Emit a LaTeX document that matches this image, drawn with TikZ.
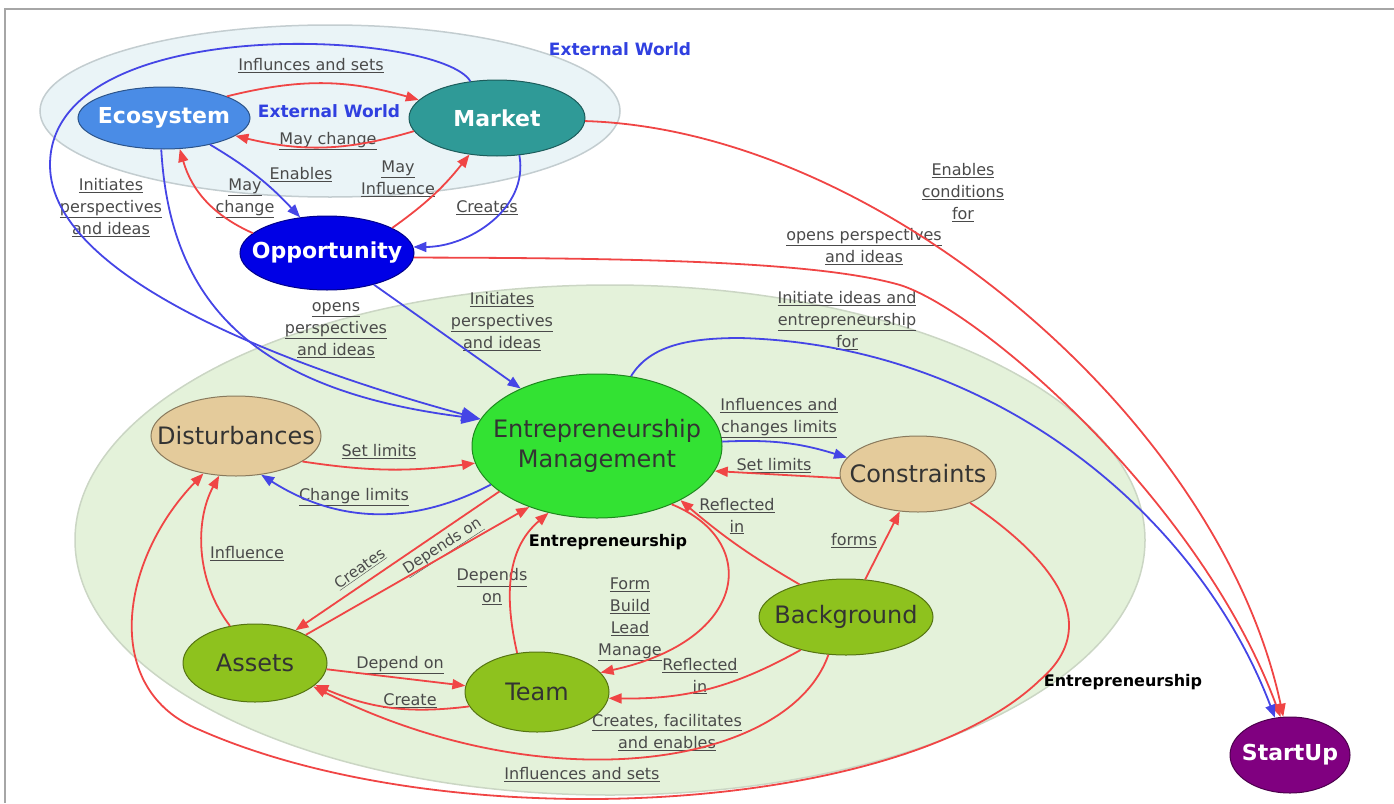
\documentclass[tikz,border=0pt]{standalone}
\usepackage{fontspec}
\setmainfont{DejaVu Sans}
\usetikzlibrary{shapes.geometric,arrows.meta}
\definecolor{worldc}{HTML}{EAF4F7}
\definecolor{worldline}{HTML}{C3CDD0}
\definecolor{entc}{HTML}{E4F2DA}
\definecolor{entline}{HTML}{CBD6C4}
\definecolor{ecoc}{HTML}{4A8CE6}
\definecolor{marketc}{HTML}{2F9A97}
\definecolor{oppc}{HTML}{0000E6}
\definecolor{emc}{HTML}{33E233}
\definecolor{tanc}{HTML}{E4CB9B}
\definecolor{leafc}{HTML}{8EC21E}
\definecolor{startc}{HTML}{800080}
\definecolor{linkred}{HTML}{F04545}
\definecolor{linkblue}{HTML}{4545E6}
\definecolor{worldtext}{HTML}{3040E0}
\definecolor{labelc}{HTML}{4A4A4A}
\newcommand{\lnk}[1]{\underline{#1}}
\tikzset{
  concept/.style={ellipse, fill=#1, draw=#1!60!black, line width=1pt, inner sep=-40pt},
  light/.style={concept=#1, text=white, font=\bfseries\fontsize{22}{26}\selectfont},
  dark/.style={concept=#1, text=black!80, font=\fontsize{24}{30}\selectfont},
  lbl/.style={text=labelc, font=\fontsize{16}{22}\selectfont, align=center, inner sep=1pt},
  title/.style={font=\bfseries\fontsize{17}{20}\selectfont},
  redlink/.style={draw=linkred, line width=1.8pt, -{Triangle[length=13pt,width=10pt]}},
  bluelink/.style={draw=linkblue, line width=1.8pt, -{Triangle[length=13pt,width=10pt]}},
  bigtip/.style={-{Triangle[length=19pt,width=14pt]}},
}

\begin{document}
\begin{tikzpicture}[x=1pt,y=1pt]
\useasboundingbox (0,0) rectangle (1394,-803);
\draw[gray!70, line width=2.5pt] (5,-803) -- (5,-9) -- (1394,-9);
% the two worlds
\filldraw[fill=worldc, draw=worldline, line width=1.5pt] (330,-111) ellipse [x radius=290, y radius=86];
\filldraw[fill=entc, draw=entline, line width=1.5pt] (610,-540) ellipse [x radius=535, y radius=255];
\node[title, text=worldtext] (world1) at (620,-49) {External World};
\node[title, text=worldtext] (world2) at (329,-111) {External World};
\node[title, font=\bfseries\fontsize{16}{20}\selectfont] (ent1) at (608,-542) {Entrepreneurship};
\node[title, font=\bfseries\fontsize{16}{20}\selectfont] (ent2) at (1123,-682) {Entrepreneurship};

% concepts
\node[light=ecoc, minimum width=172pt, minimum height=62pt] (eco) at (164,-118) {Ecosystem};
\node[light=marketc, minimum width=176pt, minimum height=76pt] (mkt) at (497,-118) {Market};
\node[light=oppc, minimum width=174pt, minimum height=74pt] (opp) at (327,-253) {Opportunity};
\node[dark=emc, minimum width=250pt, minimum height=144pt, align=center] (em) at (597,-446) {Entrepreneurship\\Management};
\node[dark=tanc, minimum width=170pt, minimum height=80pt] (dis) at (236,-436) {Disturbances};
\node[dark=tanc, minimum width=156pt, minimum height=76pt] (con) at (918,-474) {Constraints};
\node[dark=leafc, minimum width=174pt, minimum height=76pt] (bkg) at (846,-617) {Background};
\node[dark=leafc, minimum width=144pt, minimum height=78pt] (ast) at (255,-663) {Assets};
\node[dark=leafc, minimum width=144pt, minimum height=80pt] (tea) at (537,-692) {Team};
\node[light=startc, minimum width=120pt, minimum height=76pt] (sta) at (1290,-755) {StartUp};

% link labels
\node[lbl] (l-sets) at (311,-66) {\lnk{Influnces and sets}};
\node[lbl] (l-mch) at (328,-141) {\lnk{May change}};
\node[lbl] (l-enab) at (301,-175) {\lnk{Enables}};
\node[lbl] (l-mch2) at (245,-198) {\lnk{May}\\\lnk{change}};
\node[lbl] (l-minf) at (398,-179) {\lnk{May}\\\lnk{Influence}};
\node[lbl] (l-cre) at (487,-208) {\lnk{Creates}};
\node[lbl] (l-init1) at (111,-208) {\lnk{Initiates}\\\lnk{perspectives}\\\lnk{and ideas}};
\node[lbl] (l-open1) at (336,-330) {\lnk{opens}\\\lnk{perspectives}\\\lnk{and ideas}};
\node[lbl] (l-init2) at (502,-322) {\lnk{Initiates}\\\lnk{perspectives}\\\lnk{and ideas}};
\node[lbl] (l-encond) at (963,-193) {\lnk{Enables}\\\lnk{conditions}\\\lnk{for}};
\node[lbl] (l-open2) at (864,-247) {\lnk{opens perspectives}\\\lnk{and ideas}};
\node[lbl] (l-initid) at (847,-321) {\lnk{Initiate ideas and}\\\lnk{entrepreneurship}\\\lnk{for}};
\node[lbl] (l-set1) at (379,-452) {\lnk{Set limits}};
\node[lbl] (l-chg) at (354,-497) {\lnk{Change limits}};
\node[lbl] (l-infch) at (779,-418) {\lnk{Influences and}\\\lnk{changes limits}};
\node[lbl] (l-set2) at (774,-466) {\lnk{Set limits}};
\node[lbl, rotate=35, font=\fontsize{15}{20}\selectfont] (l-crt) at (360,-569) {\lnk{Creates}};
\node[lbl, rotate=33, font=\fontsize{15}{20}\selectfont] (l-dep1) at (443,-547) {\lnk{Depends on}};
\node[lbl] (l-infl) at (247,-554) {\lnk{Influence}};
\node[lbl] (l-dep2) at (492,-587) {\lnk{Depends}\\\lnk{on}};
\node[lbl] (l-form) at (630,-619) {\lnk{Form}\\\lnk{Build}\\\lnk{Lead}\\\lnk{Manage}};
\node[lbl] (l-refl1) at (737,-516) {\lnk{Reflected}\\\lnk{in}};
\node[lbl] (l-forms) at (854,-541) {\lnk{forms}};
\node[lbl] (l-refl2) at (700,-676) {\lnk{Reflected}\\\lnk{in}};
\node[lbl] (l-dep3) at (400,-665) {\lnk{Depend on}};
\node[lbl] (l-crt2) at (410,-701) {\lnk{Create}};
\node[lbl] (l-facil) at (667,-733) {\lnk{Creates, facilitates}\\\lnk{and enables}};
\node[lbl] (l-sets2) at (582,-775) {\lnk{Influences and sets}};

% external world links
\draw[redlink] (eco.19) to[bend left=15] (mkt.167);
\draw[redlink] (mkt.189) to[bend left=15] (eco.-14);
\draw[bluelink] (eco.-30) to[bend left=8] (opp.127);
\draw[redlink] (opp.165) to[bend left=25] (eco.-63);
\draw[redlink] (opp.21) to[bend right=8] (mkt.233);
\draw[bluelink] (mkt.-59) to[out=-80,in=0] (opp.4);
\draw[bluelink, bigtip] (mkt.126) .. controls (440,-30) and (50,-10) .. (50,-165) .. controls (50,-280) and (300,-370) .. (em.167);
\draw[bluelink, bigtip] (eco.-95) .. controls (170,-300) and (250,-390) .. (em.167);
\draw[bluelink] (opp.-34) -- (em.143);
\draw[redlink] (mkt.-2) .. controls (880,-130) and (1220,-420) .. (sta.100);
\draw[redlink] (opp.-3) .. controls (650,-258) and (820,-262) .. (900,-285) .. controls (980,-310) and (1200,-500) .. (sta.104);
\draw[bluelink] (em.64) .. controls (650,-345) and (690,-338) .. (740,-338) .. controls (1000,-345) and (1200,-520) .. (sta.112);

% entrepreneurship links
\draw[redlink] (dis.-21) to[bend right=8] (em.188);
\draw[bluelink] (em.200) to[bend left=30] (dis.-57);
\draw[bluelink] (em.2) to[bend left=10] (con.167);
\draw[redlink] (con.183) -- (em.-12);
\draw[redlink] (em.205) -- (ast.39);
\draw[redlink] (ast.29) -- (em.222);
\draw[redlink] (tea.117) .. controls (505,-600) and (505,-550) .. (em.234);
\draw[redlink] (em.-38) .. controls (760,-540) and (750,-640) .. (tea.17);
\draw[redlink] (bkg.145) to[bend left=5] (em.-33);
\draw[redlink] (bkg.63) -- (con.244);
\draw[redlink] (bkg.216) to[bend left=15] (tea.-5);
\draw[redlink] (bkg.245) .. controls (790,-765) and (550,-805) .. (ast.-22);
\draw[redlink] (ast.-5) -- (tea.175);
\draw[redlink] (tea.192) to[bend left=15] (ast.-20);
\draw[redlink] (ast.124) .. controls (195,-580) and (195,-520) .. (dis.247);
\draw[redlink] (con.-29) .. controls (1040,-550) and (1110,-620) .. (1040,-680) .. controls (900,-815) and (450,-840) .. (200,-730) .. controls (100,-690) and (120,-560) .. (dis.229);
\end{tikzpicture}
\end{document}
